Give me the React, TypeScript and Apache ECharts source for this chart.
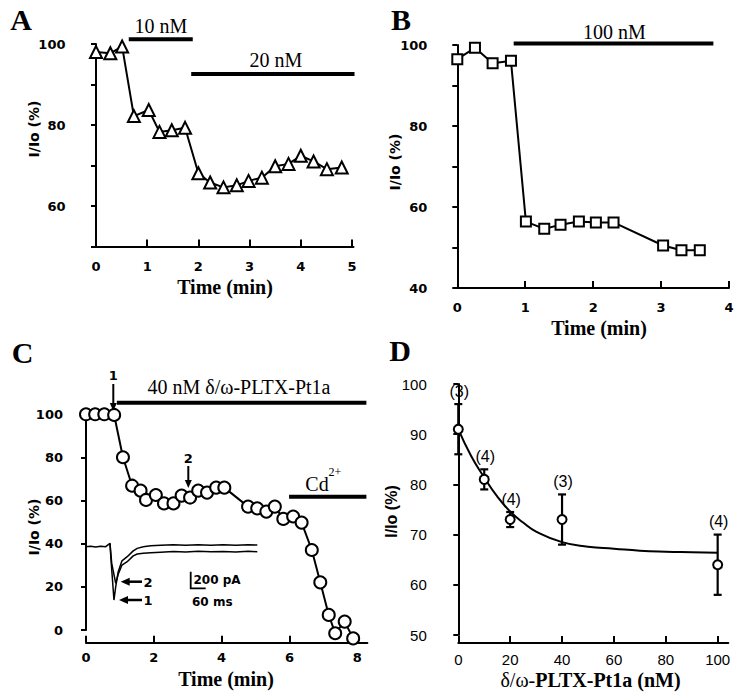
import React, { useEffect, useRef } from "react";
import * as echarts from "echarts";

// ---------- Panel A data (time in min, I/Io in %) ----------
const timeA = [0, 0.28, 0.51, 0.74, 1.03, 1.24, 1.48, 1.74, 2.0, 2.23, 2.49, 2.75, 2.98, 3.24, 3.5, 3.76, 4.0, 4.25, 4.51, 4.8];
const currentA = [98, 97.7, 99.4, 82.2, 83.7, 78.3, 78.7, 79.3, 68.1, 65.8, 64.6, 65.1, 66.2, 67.0, 69.8, 70.4, 72.4, 71.0, 69.1, 69.5];
const app10nM = [0.64, 1.89];
const app20nM = [1.86, 5.05];
const ticksA = [0, 1, 2, 3, 4, 5];
const yLabelsA = [60, 80, 100];

// ---------- Panel B data ----------
const timeB = [0, 0.26, 0.52, 0.79, 1.01, 1.28, 1.52, 1.79, 2.04, 2.3, 3.03, 3.3, 3.57];
const currentB = [96.5, 99.3, 95.5, 96.1, 56.4, 54.6, 55.6, 56.4, 56.2, 56.2, 50.5, 49.3, 49.3];
const app100nM = [0.83, 3.77];
const ticksB = [0, 1, 2, 3, 4];
const yLabelsB = [40, 60, 80, 100];

// ---------- Panel C data ----------
const timeC = [0, 0.27, 0.54, 0.83, 1.09, 1.36, 1.61, 1.77, 2.06, 2.3, 2.58, 2.82, 3.07, 3.31, 3.57, 3.84, 4.08, 4.78, 5.05, 5.32, 5.57, 5.82, 6.11, 6.36, 6.66, 6.91, 7.16, 7.35, 7.63, 7.88];
const currentC = [100, 100, 100, 99.7, 80.1, 66.9, 64.6, 60.3, 62.6, 58.7, 58.7, 62.3, 61.4, 64.6, 63.7, 66.0, 66.0, 57.2, 56.4, 54.9, 57.2, 51.5, 52.6, 49.8, 37.1, 22.1, 7.0, -1.5, 3.9, -3.9];
const appPLTX = [0.91, 8.27];
const appCd = [5.99, 8.27];
const ticksC = [0, 2, 4, 6, 8];

// Inset current traces (time in ms, current in pA)
const insetT1 = [0, 20, 40, 60, 80, 97, 101, 113, 120, 130, 145, 166, 190, 206, 230, 260, 300, 350, 400, 450, 500, 550, 600, 650, 686];
const insetI1 = [0, 6, -4, 5, 0, 40, -150, -640, -480, -300, -170, -120, -50, -20, 0, 12, 18, 22, 16, 24, 18, 22, 16, 22, 20];
const insetT2 = [97, 104, 120, 130, 145, 166, 190, 206, 230, 260, 300, 350, 400, 450, 500, 550, 600, 650, 686];
const insetI2 = [40, -200, -440, -330, -220, -180, -110, -88, -80, -72, -66, -58, -64, -56, -62, -58, -64, -56, -60];

// ---------- Panel D data ----------
const concD = [0, 10, 20, 40, 100];
const meanD = [91, 81, 73, 73, 64];
const errD = [5, 2, 1.5, 5, 6];
const nD = [3, 4, 4, 3, 4];
const fitX = [0, 5, 10, 15, 20, 25, 30, 40, 50, 60, 70, 80, 90, 100];
const fitY = [91, 85.6, 81.4, 77.6, 74.6, 72.4, 70.6, 68.5, 67.6, 67.2, 66.8, 66.6, 66.5, 66.4];
const ticksD = [0, 20, 40, 60, 80, 100];

const SERIF = "'Liberation Serif', 'Times New Roman', serif";
const SANS = "'DejaVu Sans', sans-serif";
const ARIAL = "'Liberation Sans', Arial, sans-serif";
const BLACK = "#000";

const zip = (a: number[], b: number[]) => a.map((v, i) => [v, b[i]]);

function yAxisBase(gridIndex: number, min: number, max: number, interval: number, offset: number, labels: number[] | null, font: any, margin = 7) {
  return {
    type: "value", gridIndex, min, max, interval, offset,
    axisLine: { show: true, lineStyle: { color: BLACK, width: 2 } },
    axisTick: { show: true, length: 5, lineStyle: { color: BLACK, width: 2 } },
    axisLabel: Object.assign({ color: BLACK, margin }, font, labels ? { customValues: labels } : {}),
    splitLine: { show: false },
  };
}

function xAxisBase(gridIndex: number, min: number, max: number, offset: number, ticks: number[], font: any, margin: number) {
  return {
    type: "value", gridIndex, min, max, offset,
    axisLine: { show: true, onZero: false, lineStyle: { color: BLACK, width: 2 } },
    axisTick: { show: true, inside: true, length: 7, customValues: ticks, lineStyle: { color: BLACK, width: 2 } },
    axisLabel: Object.assign({ color: BLACK, margin, customValues: ticks }, font),
    splitLine: { show: false },
  };
}

const boldSans = { fontFamily: SANS, fontWeight: "bold", fontSize: 13 };
const arialLbl = { fontFamily: ARIAL, fontSize: 15 };

function barSeries(xi: number, range: number[], level: number) {
  return {
    type: "line", xAxisIndex: xi, yAxisIndex: xi, clip: false, symbol: "none", silent: true,
    lineStyle: { color: BLACK, width: 4 },
    data: [[range[0], level], [range[1], level]], z: 3,
  };
}

function dataSeries(xi: number, data: number[][], symbol: string, size: number) {
  return {
    type: "line", xAxisIndex: xi, yAxisIndex: xi, clip: false, symbol, symbolSize: size, showAllSymbol: true,
    lineStyle: { color: BLACK, width: 2 },
    itemStyle: { color: "#fff", borderColor: BLACK, borderWidth: 2, opacity: 1 },
    data, z: 4,
  };
}

function txt(text: string, x: number, y: number, font: string, extra: any = {}) {
  return {
    type: "text", x, y, silent: true, ...extra,
    style: { text, font, fill: BLACK, align: "center", verticalAlign: "middle", textAlign: "center", textVerticalAlign: "middle" },
  };
}

function vtxt(text: string, x: number, y: number, font: string) {
  return txt(text, x, y, font, { rotation: Math.PI / 2 });
}

function line(x1: number, y1: number, x2: number, y2: number, w = 2) {
  return { type: "line", silent: true, shape: { x1, y1, x2, y2 }, style: { stroke: BLACK, lineWidth: w } };
}

function arrowDown(x: number, y1: number, y2: number) {
  return [
    line(x, y1, x, y2 - 6, 2),
    { type: "polygon", silent: true, shape: { points: [[x - 3.5, y2 - 8], [x + 3.5, y2 - 8], [x, y2]] }, style: { fill: BLACK } },
  ];
}

function arrowLeft(x1: number, x2: number, y: number) {
  return [
    line(x1 + 6, y, x2, y, 2.5),
    { type: "polygon", silent: true, shape: { points: [[x1, y], [x1 + 9, y - 4], [x1 + 9, y + 4]] }, style: { fill: BLACK } },
  ];
}

const option: any = {
  animation: false,
  backgroundColor: "#fff",
  grid: [
    { left: 96, top: 44, width: 257.5, height: 202.5, containLabel: false, outerBoundsMode: "none" },
    { left: 457.3, top: 45, width: 271.7, height: 243, containLabel: false, outerBoundsMode: "none" },
    { left: 86, top: 414.3, width: 281.4, height: 215.7, containLabel: false, outerBoundsMode: "none" },
    { left: 458.3, top: 384, width: 270, height: 251, containLabel: false, outerBoundsMode: "none" },
    { left: 85.7, top: 536.7, width: 171.6, height: 70, containLabel: false, outerBoundsMode: "none" },
  ],
  xAxis: [
    xAxisBase(0, 0, 5.03, 0, ticksA, boldSans, 13),
    xAxisBase(1, 0, 4, 0, ticksB, boldSans, 13),
    xAxisBase(2, 0, 8.3, 12.7, ticksC, boldSans, 8),
    xAxisBase(3, 0, 104.1, 8, ticksD, arialLbl, 9),
    { type: "value", gridIndex: 4, min: 0, max: 686, show: false },
  ],
  yAxis: [
    yAxisBase(0, 50, 100, 10, 23.5, yLabelsA, boldSans),
    yAxisBase(1, 40, 100, 10, 23, yLabelsB, boldSans),
    yAxisBase(2, 0, 100, 20, 16, null, boldSans),
    yAxisBase(3, 50, 100, 10, 25.5, null, arialLbl, 6),
    { type: "value", gridIndex: 4, min: -720, max: 120, show: false },
  ],
  series: [
    // Panel A
    barSeries(0, app10nM, 101.2),
    barSeries(0, app20nM, 92.6),
    dataSeries(0, zip(timeA, currentA), "triangle", 12),
    // Panel B
    barSeries(1, app100nM, 100.4),
    dataSeries(1, zip(timeB, currentB), "rect", 10),
    // Panel C
    barSeries(2, appPLTX, 105.4),
    barSeries(2, appCd, 61.8),
    dataSeries(2, zip(timeC, currentC), "circle", 12),
    // Inset traces
    {
      type: "line", xAxisIndex: 4, yAxisIndex: 4, symbol: "none", clip: false, silent: true,
      lineStyle: { color: BLACK, width: 1.5 }, data: zip(insetT1, insetI1),
    },
    {
      type: "line", xAxisIndex: 4, yAxisIndex: 4, symbol: "none", clip: false, silent: true,
      lineStyle: { color: BLACK, width: 1.5 }, data: zip(insetT2, insetI2),
    },
    // Panel D fit curve
    {
      type: "line", xAxisIndex: 3, yAxisIndex: 3, symbol: "none", smooth: true, clip: false,
      lineStyle: { color: BLACK, width: 2 }, data: zip(fitX, fitY), z: 2,
    },
    // Panel D error bars + n labels
    {
      type: "custom", xAxisIndex: 3, yAxisIndex: 3, clip: false, z: 3,
      encode: { x: 0, y: [1, 2] },
      data: concD.map((c, i) => [c, meanD[i] - errD[i], meanD[i] + errD[i], nD[i]]),
      renderItem: (_p: any, api: any) => {
        const x = api.value(0);
        const lo = api.coord([x, api.value(1)]);
        const hi = api.coord([x, api.value(2)]);
        const n = api.value(3);
        const w = 4;
        const st = { stroke: BLACK, lineWidth: 2.2 };
        return {
          type: "group",
          children: [
            { type: "line", shape: { x1: lo[0], y1: lo[1], x2: hi[0], y2: hi[1] }, style: st },
            { type: "line", shape: { x1: lo[0] - w, y1: lo[1], x2: lo[0] + w, y2: lo[1] }, style: st },
            { type: "line", shape: { x1: hi[0] - w, y1: hi[1], x2: hi[0] + w, y2: hi[1] }, style: st },
            {
              type: "text", x: hi[0] + 1, y: hi[1] - 5,
              style: { text: "(" + n + ")", font: `16px ${ARIAL}`, fill: BLACK, align: "center", verticalAlign: "bottom" },
            },
          ],
        };
      },
    },
    {
      type: "scatter", xAxisIndex: 3, yAxisIndex: 3, symbol: "circle", symbolSize: 9, clip: false, z: 5,
      itemStyle: { color: "#fff", borderColor: BLACK, borderWidth: 2, opacity: 1 },
      data: zip(concD, meanD),
    },
  ],
  graphic: [
    // panel letters
    txt("A", 21, 19, `bold 30px ${SERIF}`),
    txt("B", 401, 19, `bold 30px ${SERIF}`),
    txt("C", 22.5, 352, `bold 30px ${SERIF}`),
    txt("D", 400, 350, `bold 30px ${SERIF}`),
    // Panel A annotations
    txt("10 nM", 161, 26, `20px ${SERIF}`),
    txt("20 nM", 276, 60, `20px ${SERIF}`),
    vtxt("I/Io (%)", 34, 129, `bold 14px ${SANS}`),
    txt("Time (min)", 225, 287, `bold 20px ${SERIF}`),
    // Panel B annotations
    txt("100 nM", 614.5, 32, `20px ${SERIF}`),
    vtxt("I/Io (%)", 395, 162, `bold 14px ${SANS}`),
    txt("Time (min)", 599, 328, `bold 20px ${SERIF}`),
    // Panel C annotations
    txt("40 nM δ/ω-PLTX-Pt1a", 239, 387, `20px ${SERIF}`),
    txt("Cd", 317, 484, `20px ${SERIF}`),
    txt("2+", 335, 471.5, `12px ${SERIF}`),
    vtxt("I/Io (%)", 33.5, 527, `bold 14px ${SANS}`),
    txt("Time (min)", 226, 679, `bold 20px ${SERIF}`),
    txt("1", 113.3, 375, `bold 13px ${SANS}`),
    ...arrowDown(113.3, 384, 411),
    txt("2", 188.3, 458, `bold 13px ${SANS}`),
    ...arrowDown(188.3, 466, 488),
    ...arrowLeft(120.7, 142, 581.7),
    ...arrowLeft(119, 142, 600),
    txt("2", 148, 582, `bold 13px ${SANS}`),
    txt("1", 148, 600.5, `bold 13px ${SANS}`),
    { type: "polyline", silent: true, shape: { points: [[190.7, 571.7], [190.7, 588.3], [205.7, 588.3]] }, style: { stroke: BLACK, lineWidth: 1.8, fill: null } },
    { type: "text", x: 193.5, y: 580, silent: true, style: { text: "200 pA", font: `bold 12px ${SANS}`, fill: BLACK, align: "left", verticalAlign: "middle" } },
    { type: "text", x: 192, y: 602, silent: true, style: { text: "60 ms", font: `bold 12px ${SANS}`, fill: BLACK, align: "left", verticalAlign: "middle" } },
    // Panel D annotations
    vtxt("I/Io (%)", 391, 511.5, `bold 16px ${ARIAL}`),
    {
      type: "text", x: 590.5, y: 680, silent: true,
      style: {
        text: "{a|δ/ω-}{b|PLTX-Pt1a (nM)}", align: "center", verticalAlign: "middle",
        rich: {
          a: { fontFamily: SERIF, fontSize: 20, fill: BLACK, color: BLACK },
          b: { fontFamily: SERIF, fontSize: 20, fontWeight: "bold", fill: BLACK, color: BLACK },
        },
      },
    },
  ],
};

export default function App() {
  const ref = useRef<HTMLDivElement>(null);
  useEffect(() => {
    if (!ref.current) return;
    const chart = echarts.init(ref.current, null, { renderer: "svg" });
    chart.setOption(option);
    return () => chart.dispose();
  }, []);
  return (
    <div
      ref={ref}
      style={{ position: "fixed", left: 0, top: 0, width: 741, height: 697, background: "#fff" }}
    />
  );
}
